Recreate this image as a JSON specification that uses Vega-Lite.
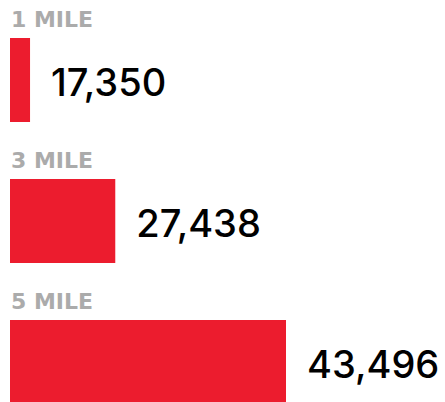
{
  "$schema": "https://vega.github.io/schema/vega-lite/v6.json",
  "width": 435,
  "height": 402,
  "autosize": {"type": "none"},
  "padding": {"left": 10, "top": 0, "right": 0, "bottom": 0},
  "background": "white",
  "config": {"view": {"stroke": null}},
  "data": {"values": [
    {"label": "1 MILE", "value": 17350},
    {"label": "3 MILE", "value": 27438},
    {"label": "5 MILE", "value": 43496}
  ]},
  "encoding": {
    "y": {
      "field": "label", "type": "nominal", "axis": null, "sort": null,
      "scale": {"range": [0, 442], "paddingInner": 0.404, "paddingOuter": 0.2695}
    }
  },
  "layer": [
    {
      "mark": {"type": "bar", "color": "#ec1c2e", "clip": true},
      "encoding": {
        "x": {"field": "value", "type": "quantitative", "axis": null,
          "scale": {"type": "pow", "exponent": 1.5, "domain": [14544, 43496], "range": [0, 276], "zero": false, "nice": false}}
      }
    },
    {
      "mark": {"type": "text", "align": "left", "baseline": "alphabetic", "dx": 1, "dy": -11, "font": "DejaVu Sans", "fontWeight": "bold", "fontSize": 22, "color": "#ababab"},
      "encoding": {
        "y": {"field": "label", "type": "nominal", "bandPosition": 0, "sort": null},
        "x": {"datum": 14544, "type": "quantitative"},
        "text": {"field": "label"}
      }
    },
    {
      "mark": {"type": "text", "align": "left", "baseline": "middle", "dx": 21, "dy": 5, "font": "Inter", "fontWeight": 500, "fontSize": 38, "color": "#000000"},
      "encoding": {
        "x": {"field": "value", "type": "quantitative"},
        "text": {"field": "value", "type": "quantitative", "format": ","}
      }
    }
  ]
}
